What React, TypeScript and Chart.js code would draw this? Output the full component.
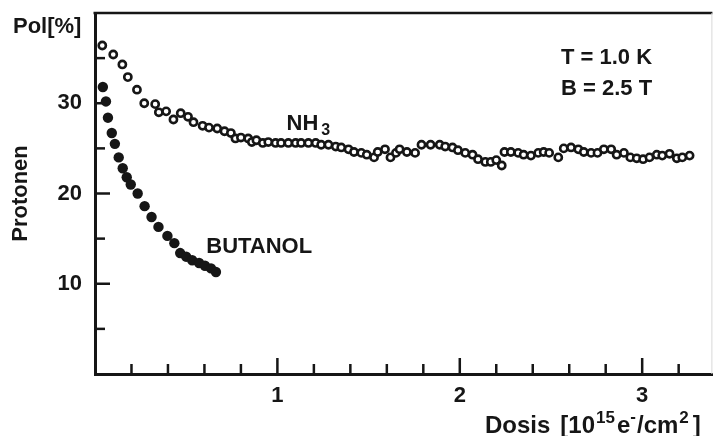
import React, { useEffect, useRef } from 'react';
import { Chart, registerables } from 'chart.js';

Chart.register(...registerables);

// ---- data ----
const NH3_X = [0.04, 0.10, 0.15, 0.18, 0.23, 0.27, 0.33, 0.35, 0.39, 0.43,
  0.47, 0.51, 0.54, 0.59, 0.625, 0.67, 0.71, 0.745, 0.77, 0.80,
  0.84, 0.86, 0.885, 0.92, 0.95, 0.99, 1.02, 1.06, 1.10, 1.13,
  1.17, 1.21, 1.24, 1.28, 1.32, 1.35, 1.39, 1.42, 1.46, 1.49,
  1.53, 1.55, 1.59, 1.62, 1.65, 1.67, 1.71, 1.755, 1.79, 1.84,
  1.89, 1.92, 1.96, 1.99, 2.03, 2.07, 2.10, 2.14, 2.17, 2.20,
  2.23, 2.245, 2.28, 2.32, 2.35, 2.39, 2.43, 2.46, 2.49, 2.54,
  2.57, 2.61, 2.65, 2.68, 2.72, 2.755, 2.79, 2.83, 2.86, 2.90,
  2.935, 2.97, 3.005, 3.04, 3.08, 3.11, 3.15, 3.19, 3.22, 3.26];
const NH3_Y = [36.4, 35.4, 34.3, 32.9, 31.5, 30.0, 29.9, 29.0, 29.1, 28.2,
  28.9, 28.5, 27.9, 27.5, 27.3, 27.2, 26.9, 26.7, 26.1, 26.2,
  26.1, 25.7, 25.9, 25.6, 25.7, 25.6, 25.6, 25.6, 25.6, 25.6,
  25.6, 25.6, 25.4, 25.4, 25.2, 25.1, 24.9, 24.6, 24.5, 24.3,
  24.0, 24.6, 24.9, 24.0, 24.5, 24.9, 24.6, 24.5, 25.4, 25.4,
  25.4, 25.2, 25.1, 24.8, 24.5, 24.3, 23.8, 23.5, 23.5, 23.7,
  23.1, 24.6, 24.6, 24.5, 24.3, 24.2, 24.5, 24.6, 24.5, 24.0,
  25.0, 25.1, 24.9, 24.6, 24.5, 24.5, 24.9, 24.9, 24.3, 24.5,
  24.0, 23.9, 23.8, 24.0, 24.3, 24.2, 24.4, 23.9, 24.0, 24.2];

const BUTANOL_X = [0.043, 0.060, 0.071, 0.092, 0.109, 0.130, 0.152, 0.174, 0.196, 0.234, 0.272,
  0.310, 0.348, 0.397, 0.435, 0.467, 0.500, 0.533, 0.571, 0.603, 0.636, 0.663];
const BUTANOL_Y = [31.8, 30.2, 28.4, 26.7, 25.5, 24.0, 22.8, 21.8, 21.0, 20.0, 18.6,
  17.4, 16.3, 15.3, 14.5, 13.4, 13.0, 12.6, 12.3, 12.0, 11.7, 11.3];

const X_TICKS = [0.2, 0.4, 0.6, 0.8, 1, 1.2, 1.4, 1.6, 1.8, 2, 2.2, 2.4, 2.6, 2.8, 3, 3.2];
const X_LABELED = [1, 2, 3];
const Y_TICKS = [5, 10, 15, 20, 25, 30, 35];
const Y_LABELED = [10, 20, 30];
const X_RANGE = [0, 3.385];
const Y_RANGE = [0, 40];

const INK = '#161616';
const FAMILY = '"Liberation Sans", Arial, sans-serif';

function isLabeled(list: number[], v: number) {
  return list.some((l) => Math.abs(l - v) < 1e-6);
}

const framePlugin = {
  id: 'frameTicks',
  beforeDatasetsDraw(chart: any) {
    const { ctx, chartArea, scales } = chart;
    const xs = scales.x;
    const ys = scales.y;
    ctx.save();
    ctx.strokeStyle = INK;
    ctx.lineCap = 'butt';
    // top frame line
    ctx.lineWidth = 2.5;
    ctx.beginPath();
    ctx.moveTo(chartArea.left - 1.5, chartArea.top);
    ctx.lineTo(chartArea.right, chartArea.top);
    ctx.stroke();
    // faint right edge
    ctx.strokeStyle = '#d8d8d8';
    ctx.lineWidth = 1;
    ctx.beginPath();
    ctx.moveTo(chartArea.right - 0.5, chartArea.top);
    ctx.lineTo(chartArea.right - 0.5, chartArea.bottom);
    ctx.stroke();
    // inward ticks
    ctx.strokeStyle = INK;
    ctx.lineWidth = 2.5;
    xs.ticks.forEach((t: any) => {
      const px = xs.getPixelForValue(t.value);
      const len = isLabeled(X_LABELED, t.value) ? 16 : 10;
      ctx.beginPath();
      ctx.moveTo(px, chartArea.bottom);
      ctx.lineTo(px, chartArea.bottom - len);
      ctx.stroke();
    });
    ys.ticks.forEach((t: any) => {
      const py = ys.getPixelForValue(t.value);
      const len = isLabeled(Y_LABELED, t.value) ? 15 : 10;
      ctx.beginPath();
      ctx.moveTo(chartArea.left, py);
      ctx.lineTo(chartArea.left + len, py);
      ctx.stroke();
    });
    ctx.restore();
  },
  afterDraw(chart: any) {
    const { ctx, chartArea, scales } = chart;
    const xs = scales.x;
    const ys = scales.y;
    const font = (s: number) => `bold ${s}px ${FAMILY}`;
    ctx.save();
    ctx.fillStyle = INK;
    ctx.textBaseline = 'alphabetic';
    ctx.textAlign = 'left';

    // "Pol[%]" above the y axis
    ctx.font = font(22);
    ctx.fillText('Pol[%]', chartArea.left - 82, chartArea.top + 20);

    // NH3 label
    const nx = xs.getPixelForValue(1.05);
    const ny = ys.getPixelForValue(27.0);
    ctx.font = font(22);
    ctx.fillText('NH', nx, ny);
    const nw = ctx.measureText('NH').width;
    ctx.font = font(16);
    ctx.fillText('3', nx + nw + 3, ny + 5);

    // BUTANOL label
    ctx.font = font(22);
    ctx.fillText('BUTANOL', xs.getPixelForValue(0.61), ys.getPixelForValue(13.4));

    // conditions
    ctx.fillText('T = 1.0 K', xs.getPixelForValue(2.555), ys.getPixelForValue(34.4));
    ctx.fillText('B = 2.5 T', xs.getPixelForValue(2.555), ys.getPixelForValue(30.9));

    // x axis title with superscripts: [text, size, dy, gap before]
    let x = chartArea.left + 390;
    const base = chartArea.bottom + 59;
    const parts: [string, number, number, number][] = [
      ['Dosis', 24, 0, 0],
      ['[10', 24, 0, 10],
      ['15', 17, -10, 1],
      ['e', 24, 0, 2],
      ['-', 17, -11, 0],
      ['/cm', 24, 0, 1],
      ['2', 17, -10, 1],
      [']', 24, 0, 4],
    ];
    parts.forEach(([txt, size, dy, gap]) => {
      x += gap;
      ctx.font = font(size);
      ctx.fillText(txt, x, base + dy);
      x += ctx.measureText(txt).width;
    });
    ctx.restore();
  },
};

export default function App() {
  const canvasRef = useRef<HTMLCanvasElement | null>(null);

  useEffect(() => {
    const canvas = canvasRef.current;
    if (!canvas) return;
    const nh3 = NH3_X.map((x, i) => ({ x, y: NH3_Y[i] }));
    const but = BUTANOL_X.map((x, i) => ({ x, y: BUTANOL_Y[i] }));
    const tickFont = { family: FAMILY, size: 22, weight: 'bold' as const };

    const chart = new Chart(canvas, {
      type: 'scatter',
      data: {
        datasets: [
          {
            label: 'NH3',
            data: nh3,
            showLine: false,
            pointStyle: 'circle',
            pointRadius: 3.6,
            pointBorderWidth: 2.6,
            pointBorderColor: INK,
            pointBackgroundColor: '#ffffff',
          },
          {
            label: 'BUTANOL',
            data: but,
            showLine: false,
            pointStyle: 'circle',
            pointRadius: 5.2,
            pointBorderWidth: 0,
            pointBorderColor: INK,
            pointBackgroundColor: INK,
          },
        ],
      },
      options: {
        animation: false,
        responsive: false,
        maintainAspectRatio: false,
        layout: { padding: { top: 13, right: 1, left: 0, bottom: 0 } },
        plugins: {
          legend: { display: false },
          tooltip: { enabled: false },
          title: { display: false },
        },
        scales: {
          x: {
            type: 'linear',
            min: X_RANGE[0],
            max: X_RANGE[1],
            grid: { display: false, drawTicks: false },
            border: { display: true, color: INK, width: 3 },
            afterBuildTicks: (s: any) => {
              s.ticks = X_TICKS.map((v) => ({ value: v }));
            },
            afterFit: (s: any) => {
              s.height = 62;
              s.paddingLeft = 0;
              s.paddingRight = 0;
              s.paddingTop = 0;
              s.paddingBottom = 0;
            },
            ticks: {
              autoSkip: false,
              maxRotation: 0,
              padding: 9,
              color: INK,
              font: tickFont,
              callback: (v: any) => (isLabeled(X_LABELED, Number(v)) ? String(Math.round(Number(v))) : ''),
            },
            title: { display: false },
          },
          y: {
            type: 'linear',
            min: Y_RANGE[0],
            max: Y_RANGE[1],
            grid: { display: false, drawTicks: false },
            border: { display: true, color: INK, width: 3 },
            afterBuildTicks: (s: any) => {
              s.ticks = Y_TICKS.map((v) => ({ value: v }));
            },
            afterFit: (s: any) => {
              s.width = 95;
              s.paddingLeft = 0;
              s.paddingRight = 0;
              s.paddingTop = 0;
              s.paddingBottom = 0;
            },
            ticks: {
              autoSkip: false,
              padding: 13,
              color: INK,
              font: tickFont,
              callback: (v: any) => (isLabeled(Y_LABELED, Number(v)) ? String(Math.round(Number(v))) : ''),
            },
            title: {
              display: true,
              text: 'Protonen',
              color: INK,
              font: { family: FAMILY, size: 22, weight: 'bold' },
              padding: { top: 8, bottom: 0 },
            },
          },
        },
      },
      plugins: [framePlugin],
    });
    return () => chart.destroy();
  }, []);

  return (
    <div style={{ position: 'fixed', left: 0, top: 0, width: 719, height: 436, background: '#fff' }}>
      <canvas ref={canvasRef} width={719} height={436} style={{ display: 'block' }} />
    </div>
  );
}
